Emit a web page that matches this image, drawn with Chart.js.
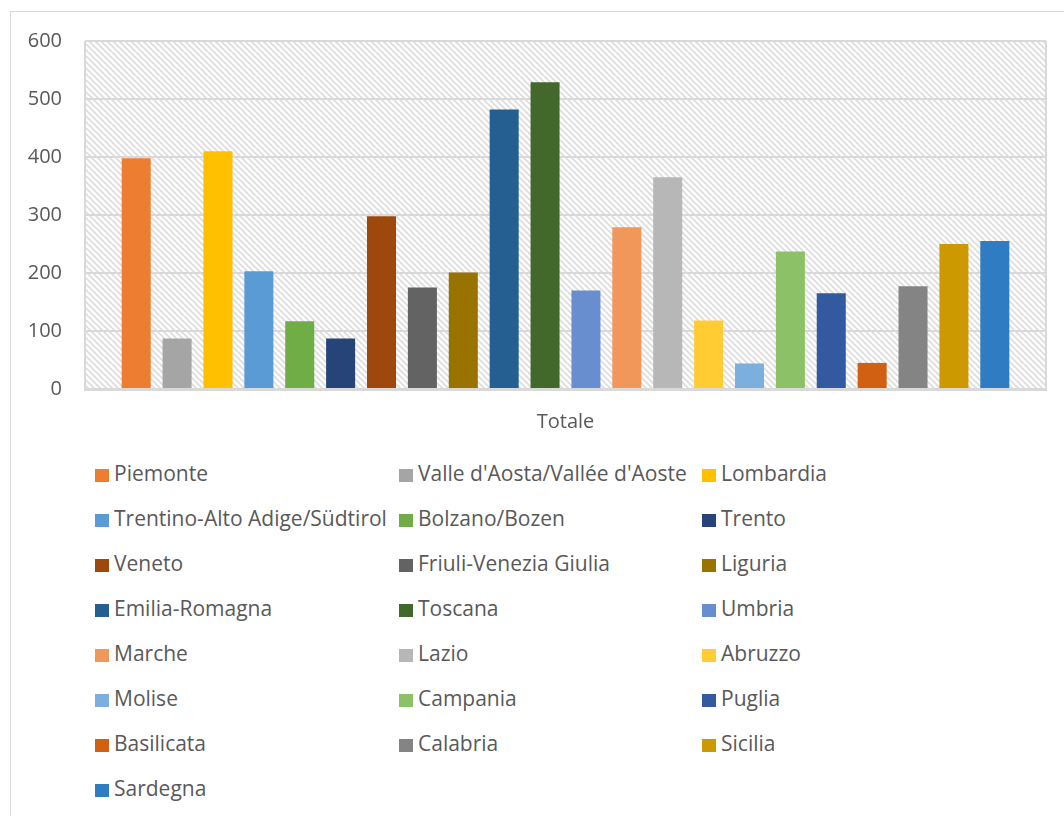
<!DOCTYPE html>
<html>
<head>
<meta charset="utf-8">
<script src="https://cdn.jsdelivr.net/npm/chart.js@4"></script>
<style>
    body { margin: 0; background: #fff; font-family: "Open Sans", "Liberation Sans", sans-serif; }
    #frame { position: absolute; left: 10px; top: 11px; width: 1060px; height: 820px; border: 1px solid #d9d9d9; box-sizing: border-box; }
    #wrap { position: absolute; left: 0; top: 0; width: 1064px; height: 440px; }
    #legend { position: absolute; left: 95px; top: 460px; display: grid; grid-template-columns: 304px 303px 303px; grid-auto-rows: 45px; }
    .item { display: flex; align-items: flex-start; color: #595959; font-size: 21px; white-space: nowrap; line-height: 27px; }
    .box { width: 14px; height: 13px; margin-top: 9px; margin-right: 5px; flex: none; }
</style>
</head>
<body>
<div id="frame"></div>
<div id="wrap"><canvas id="chart"></canvas></div>
<div id="legend"></div>
<script>
// Data
const categories = ['Totale'];
const regions = ['Piemonte', "Valle d'Aosta/Vallée d'Aoste", 'Lombardia', 'Trentino-Alto Adige/Südtirol',
    'Bolzano/Bozen', 'Trento', 'Veneto', 'Friuli-Venezia Giulia', 'Liguria', 'Emilia-Romagna', 'Toscana',
    'Umbria', 'Marche', 'Lazio', 'Abruzzo', 'Molise', 'Campania', 'Puglia', 'Basilicata', 'Calabria',
    'Sicilia', 'Sardegna'];
const totals = [398, 87, 410, 203, 117, 87, 298, 175, 201, 482, 529, 170, 279, 365, 118, 44, 237, 165, 45, 177, 250, 255];
const colors = ['#ED7D31', '#A5A5A5', '#FFC000', '#5B9BD5', '#70AD47', '#264478', '#9E480E', '#636363',
    '#997300', '#255E91', '#43682B', '#698ED0', '#F1975A', '#B7B7B7', '#FFCD33', '#7CAFDD', '#8CC168',
    '#335AA1', '#D26012', '#848484', '#CC9A00', '#307CC2'];
const yTicks = [0, 100, 200, 300, 400, 500, 600];

// Hatched plot background
function makePattern() {
    const c = document.createElement('canvas');
    c.width = 6; c.height = 6;
    const g = c.getContext('2d');
    g.fillStyle = '#ffffff';
    g.fillRect(0, 0, 6, 6);
    g.strokeStyle = '#dcdcdc';
    g.lineWidth = 1.6;
    g.beginPath();
    g.moveTo(-1, -1); g.lineTo(7, 7);
    g.moveTo(-4, 2); g.lineTo(2, 8);
    g.moveTo(2, -4); g.lineTo(8, 2);
    g.stroke();
    return g.createPattern(c, 'repeat');
}

const hatchPlugin = {
    id: 'hatch',
    beforeDraw(chart) {
        const a = chart.chartArea;
        const ctx = chart.ctx;
        ctx.save();
        ctx.fillStyle = makePattern();
        ctx.fillRect(a.left, a.top, a.right - a.left, a.bottom - a.top);
        ctx.restore();
    }
};

const datasets = regions.map((name, i) => ({
    label: name,
    data: [totals[i]],
    backgroundColor: colors[i],
    borderWidth: 0,
    categoryPercentage: 0.936,
    barPercentage: 0.71
}));

const tickFont = { family: 'Open Sans', size: 20 };

const chart = new Chart(document.getElementById('chart'), {
    type: 'bar',
    data: { labels: categories, datasets: datasets },
    plugins: [hatchPlugin],
    options: {
        responsive: true,
        maintainAspectRatio: false,
        animation: false,
        layout: { padding: { left: 0, top: 41, right: 18, bottom: 0 } },
        plugins: {
            legend: { display: false },
            tooltip: { enabled: false }
        },
        scales: {
            x: {
                afterFit(scale) { scale.height = 51; },
                grid: { offset: true, color: '#d9d9d9', lineWidth: 2, drawTicks: false },
                border: { color: '#d9d9d9', width: 3 },
                ticks: { color: '#595959', font: tickFont, padding: 21 }
            },
            y: {
                min: 0,
                max: 600,
                afterFit(scale) { scale.width = 85; },
                afterBuildTicks(scale) { scale.ticks = yTicks.map(v => ({ value: v })); },
                grid: { color: '#d9d9d9', lineWidth: 2, drawTicks: false },
                border: { display: false },
                ticks: { color: '#595959', font: tickFont, padding: 23 }
            }
        }
    }
});

// HTML legend in three columns
const legend = document.getElementById('legend');
regions.forEach((name, i) => {
    const item = document.createElement('div');
    item.className = 'item';
    item.innerHTML = `<span class="box" style="background:${colors[i]}"></span><span>${name}</span>`;
    legend.appendChild(item);
});
</script>
</body>
</html>
